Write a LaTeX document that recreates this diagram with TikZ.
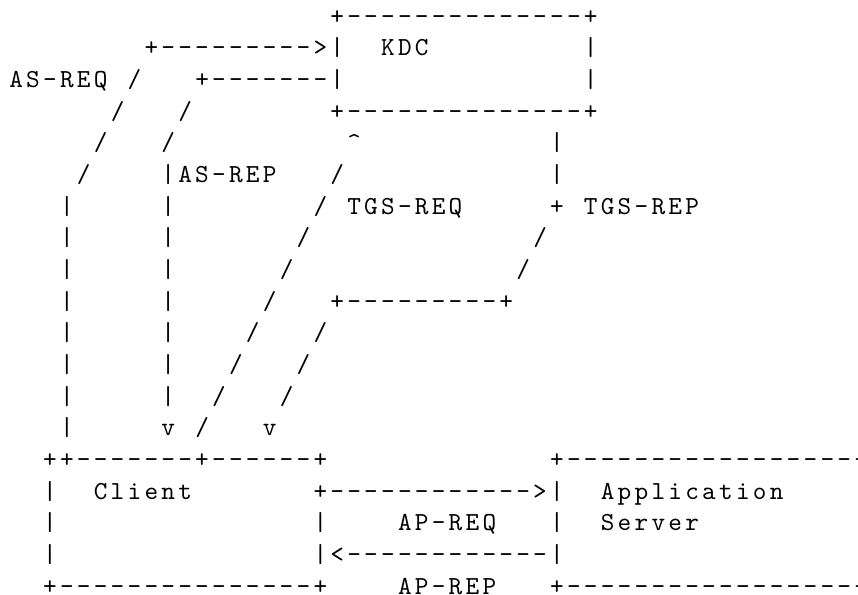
\documentclass[tikz,border=0pt]{standalone}
\usepackage{fontspec}
\usepackage{tikz}
\newfontfamily\artfont[Ligatures=TeXOff, LetterSpace=12.5]{lmmono10-regular.otf}

\begin{document}
\begin{tikzpicture}[x=8.45pt, y=-15.835pt,
	art/.style={font={\artfont\fontsize{13}{15}\selectfont}, inner sep=0pt, outer sep=0pt, anchor=base west, xshift=0.81pt}]
	
	\useasboundingbox (-8.1pt,-3.835pt) rectangle (420.9pt,-301.335pt);
	\clip (-8.1pt,-3.835pt) rectangle (420.9pt,-301.335pt);
	
	% ---------- KDC ----------
	\node[art] (kdc-top) at (18.5,1) {+--------------+};
	\node[art] (kdc) at (21.5,2) {KDC};
	\node[art] (kdc-side-a) at (33.5,2) {|};
	\node[art] (kdc-side-b) at (33.5,3) {|};
	\node[art] (kdc-bot) at (18.5,4) {+--------------+};
	
	% ---------- AS-REQ / AS-REP ----------
	\node[art] (as-req-head) at (7.5,2) {+--------->|};
	\node[art] (as-req) at (-0.5,3) {AS-REQ};
	\node[art] (as-rep-head) at (10.5,3) {+-------|};
	\foreach \r in {3,...,6} {
		\node[art] (as-req-s\r) at (9.5-\r,\r) {/};
	}
	\foreach \r in {4,5} {
		\node[art] (as-rep-s\r) at (13.5-\r,\r) {/};
	}
	\node[art] (as-rep) at (8.5,6) {|AS-REP};
	\foreach \r in {7,...,14} {
		\node[art] (as-req-v\r) at (2.5,\r) {|};
	}
	\foreach \r in {7,...,13} {
		\node[art] (as-rep-v\r) at (8.5,\r) {|};
	}
	\node[art] (as-rep-tip) at (8.5,14) {v};
	
	% ---------- TGS-REQ / TGS-REP ----------
	\node[art] (tgs-req-head) at (19.5,5) {\textasciicircum};
	\foreach \r in {6,...,14} {
		\node[art] (tgs-req-s\r) at (24.5-\r,\r) {/};
	}
	\node[art] (tgs-req) at (19.5,7) {TGS-REQ};
	\node[art] (tgs-rep-v5) at (31.5,5) {|};
	\node[art] (tgs-rep-v6) at (31.5,6) {|};
	\node[art] (tgs-rep-knee) at (31.5,7) {+};
	\node[art] (tgs-rep) at (33.5,7) {TGS-REP};
	\foreach \r in {8,9} {
		\node[art] (tgs-rep-s\r) at (38.5-\r,\r) {/};
	}
	\node[art] (tgs-rep-mid) at (18.5,10) {+---------+};
	\foreach \r in {11,12,13} {
		\node[art] (tgs-rep-s\r) at (28.5-\r,\r) {/};
	}
	\node[art] (tgs-rep-tip) at (14.5,14) {v};
	
	% ---------- Client ----------
	\node[art] (client-top) at (1.5,15) {++-------+------+};
	\node[art] (client) at (4.5,16) {Client};
	\foreach \r in {16,17,18} {
		\node[art] (client-l\r) at (1.5,\r) {|};
	}
	\node[art] (client-r17) at (17.5,17) {|};
	\node[art] (client-bot) at (1.5,19) {+---------------+};
	
	% ---------- AP-REQ / AP-REP ----------
	\node[art] (ap-req-head) at (17.5,16) {+------------>|};
	\node[art] (ap-req) at (22.5,17) {AP-REQ};
	\node[art] (ap-rep-head) at (17.5,18) {|<------------|};
	\node[art] (ap-rep) at (22.5,19) {AP-REP};
	
	% ---------- Application Server ----------
	\node[art] (server-top) at (31.5,15) {+--------------------};
	\node[art] (server) at (34.5,16) {Application};
	\node[art] (server-l17) at (31.5,17) {|};
	\node[art] (server-b) at (34.5,17) {Server};
	\node[art] (server-bot) at (31.5,19) {+--------------------};
	
\end{tikzpicture}
\end{document}
